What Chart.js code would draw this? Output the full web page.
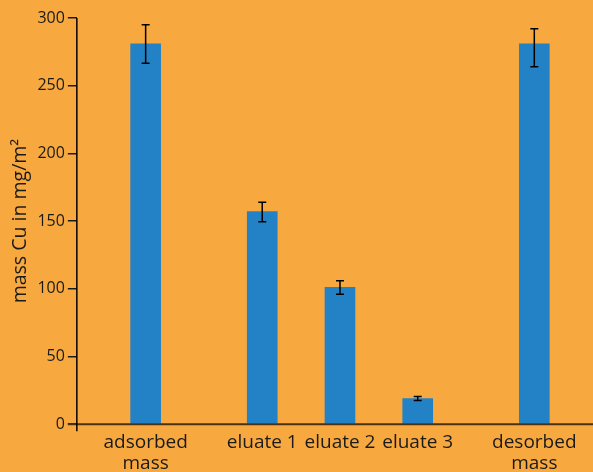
<!DOCTYPE html>
<html>
<head>
<meta charset="utf-8">
<script src="https://cdn.jsdelivr.net/npm/chart.js@4"></script>
<style>
  html, body { margin: 0; padding: 0; background: #F7A940; }
  #wrap { width: 593px; height: 472px; position: relative; }
</style>
</head>
<body>
<div id="wrap"><canvas id="c"></canvas></div>
<script>
// ---- data ----
const categories = [["adsorbed", "mass"], "eluate 1", "eluate 2", "eluate 3", ["desorbed", "mass"]];
const slots = [0, 3, 5, 7, 10];          // category slot along the axis (gap before/after eluates)
const values = [281, 157, 101, 19, 281];
const errUpper = [295, 164, 106, 20.5, 292];
const errLower = [266.5, 149.5, 96, 17.5, 264];
const yTicks = [0, 50, 100, 150, 200, 250, 300];

const FONT = "'Open Sans', 'Noto Sans', sans-serif";

const errorBars = {
  id: 'errorBars',
  afterDatasetsDraw(chart) {
    const { ctx, scales: { x, y } } = chart;
    ctx.save();
    ctx.strokeStyle = '#000';
    ctx.lineWidth = 1.5;
    slots.forEach((s, i) => {
      const px = x.getPixelForValue(s);
      const top = y.getPixelForValue(errUpper[i]);
      const bot = y.getPixelForValue(errLower[i]);
      ctx.beginPath();
      ctx.moveTo(px, top); ctx.lineTo(px, bot);
      ctx.moveTo(px - 4, top); ctx.lineTo(px + 4, top);
      ctx.moveTo(px - 4, bot); ctx.lineTo(px + 4, bot);
      ctx.stroke();
    });
    ctx.restore();
  }
};

const axisLines = {
  id: 'axisLines',
  afterDraw(chart) {
    const { ctx, scales: { x, y } } = chart;
    const y0 = y.getPixelForValue(0);
    ctx.save();
    ctx.strokeStyle = '#4B3214';
    ctx.lineWidth = 2;
    ctx.beginPath();
    ctx.moveTo(x.left - 9, y0); ctx.lineTo(x.right, y0);
    ctx.stroke();
    ctx.strokeStyle = '#000';
    ctx.lineWidth = 1.5;
    ctx.beginPath();
    ctx.moveTo(x.left, y.getPixelForValue(300)); ctx.lineTo(x.left, y0 + 7);
    ctx.stroke();
    ctx.restore();
  }
};

new Chart(document.getElementById('c'), {
  type: 'bar',
  data: {
    datasets: [{
      data: slots.map((s, i) => ({ x: s, y: values[i] })),
      backgroundColor: '#2382C6',
      barThickness: 30,
      borderWidth: 0
    }]
  },
  options: {
    responsive: true,
    maintainAspectRatio: false,
    animation: false,
    layout: { padding: { top: 18, right: 0, bottom: -10, left: 9 } },
    plugins: { legend: { display: false }, tooltip: { enabled: false } },
    scales: {
      x: {
        type: 'linear',
        offset: false,
        min: -1.77,
        max: 11.51,
        afterBuildTicks: (s) => { s.ticks = slots.map(v => ({ value: v })); },
        grid: { display: false, drawTicks: false, offset: false },
        border: { display: false },
        ticks: {
          autoSkip: false,
          maxRotation: 0,
          padding: 8,
          color: '#1a1a1a',
          font: { family: FONT, size: 19, lineHeight: 1.1 },
          callback: (v, i) => categories[i]
        }
      },
      y: {
        min: 0,
        max: 300,
        afterBuildTicks: (s) => { s.ticks = yTicks.map(v => ({ value: v })); },
        grid: { drawOnChartArea: false, drawTicks: true, tickLength: 9, color: '#1a1a1a', lineWidth: 1.5 },
        border: { display: false },
        ticks: { padding: 3, color: '#1a1a1a', font: { family: FONT, size: 16 } },
        title: {
          display: true,
          text: 'mass Cu in mg/m²',
          color: '#1a1a1a',
          font: { family: FONT, size: 19.5 },
          padding: { top: 0, bottom: 2 }
        }
      }
    }
  },
  plugins: [errorBars, axisLines]
});
</script>
</body>
</html>
